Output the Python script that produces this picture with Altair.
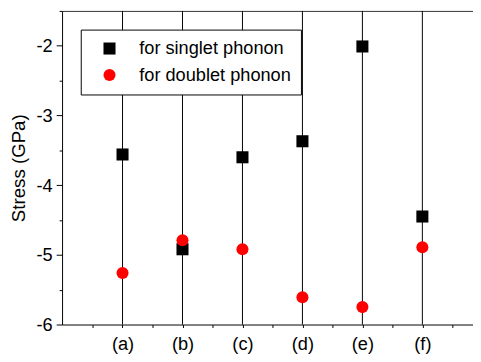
import json
import altair as alt
import pandas as pd

categories = ["(a)", "(b)", "(c)", "(d)", "(e)", "(f)"]
singlet = [-3.56, -4.92, -3.60, -3.37, -2.01, -4.45]
doublet = [-5.26, -4.79, -4.92, -5.61, -5.75, -4.89]
series_names = ["for singlet phonon", "for doublet phonon"]

rows = []
for i, c in enumerate(categories):
    rows.append({"cat": c, "pos": i + 1, "series": series_names[0], "stress": singlet[i]})
for i, c in enumerate(categories):
    rows.append({"cat": c, "pos": i + 1, "series": series_names[1], "stress": doublet[i]})
df = pd.DataFrame(rows)
lines = pd.DataFrame({"cat": categories, "pos": list(range(1, len(categories) + 1))})

W, H = 418, 319
FONT = "Liberation Sans"
FS = 18.5
PX = 61.0
x0 = -0.5 / PX
xdom = [x0, x0 + W / PX]
ydom = [-6, -1.5]

xscale = alt.Scale(domain=xdom, nice=False, zero=False)
yscale = alt.Scale(domain=ydom, nice=False, zero=False)

cat_js = json.dumps(categories)
x_ticks = [0.5 * k for k in range(1, 14)]
y_ticks = [-6 + 0.5 * k for k in range(0, 10)]

bottom_axis = alt.Axis(
    values=x_ticks,
    labelExpr=f"datum.value % 1 === 0 ? {cat_js}[datum.value - 1] : ''",
    title=None, grid=False, domainColor="black", domainWidth=1,
    tickColor="black", tickSize=3, labelFontSize=FS, labelFont=FONT,
    labelColor="black", labelPadding=7, labelFlush=False, labelOverlap=False,
)
top_axis = alt.Axis(
    orient="top", values=x_ticks, labels=False, ticks=False, title=None,
    grid=False, domainColor="#333333", domainWidth=1,
)
y_axis = alt.Axis(
    values=y_ticks,
    labelExpr="datum.value % 1 === 0 ? '' + datum.value : ''",
    title="Stress (GPa)", titleFontSize=FS + 0.5, titleFont=FONT, titleFontWeight="normal",
    titleColor="black", titlePadding=8,
    grid=False, domainColor="black", domainWidth=1, tickColor="black",
    tickSize={"condition": {"test": "datum.value % 1 === 0", "value": 6}, "value": 3},
    labelFontSize=FS, labelFont=FONT, labelColor="black", labelPadding=4,
    labelFlush=False, labelOverlap=False,
)

rules = alt.Chart(lines).mark_rule(color="black", strokeWidth=1).encode(
    x=alt.X("pos:Q", scale=xscale, axis=bottom_axis),
    y=alt.value(0),
    y2=alt.value(H),
)

points = alt.Chart(df).mark_point(filled=True, size=150, opacity=1, strokeWidth=0).encode(
    x=alt.X("pos:Q", scale=xscale, axis=top_axis),
    y=alt.Y("stress:Q", scale=yscale, axis=y_axis),
    color=alt.Color("series:N", scale=alt.Scale(domain=series_names, range=["black", "#ff0000"]),
                    legend=alt.Legend(title=None)),
    shape=alt.Shape("series:N", scale=alt.Scale(domain=series_names, range=["square", "circle"]),
                    legend=alt.Legend(title=None)),
    order=alt.Order("series_order:Q"),
).transform_calculate(series_order=f"indexof({json.dumps(series_names)}, datum.series)")

chart = alt.layer(rules, points).resolve_axis(x="independent").properties(
    width=W, height=H,
    autosize=alt.AutoSizeParams(type="none"),
    padding={"left": 55, "top": 0, "right": 0, "bottom": 27},
    background="white",
).configure_view(stroke=None).configure_legend(
    orient="none", legendX=19, legendY=19,
    strokeColor="black", fillColor="white", padding=10,
    labelFontSize=FS, labelFont=FONT, labelColor="black",
    symbolSize=150, rowPadding=8, labelOffset=21, symbolOffset=10,
    symbolStrokeWidth=0,
)

chart.save("out.html", embed_options={"renderer": "svg", "actions": False})
